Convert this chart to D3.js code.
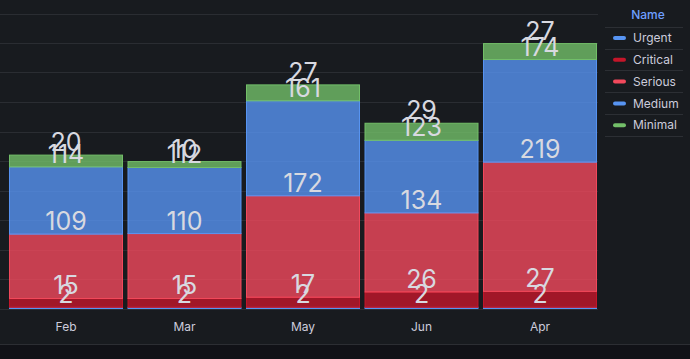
<!DOCTYPE html>
<html><head><meta charset="utf-8">
<script src="https://cdn.jsdelivr.net/npm/d3@7"></script>
<style>
html,body{margin:0;padding:0;background:#181b1f;}
svg{display:block;}
text{font-family:Inter,"Open Sans",sans-serif;}
</style></head>
<body>
<svg id="c" width="690" height="359"></svg>
<script>
const categories = ["Feb","Mar","May","Jun","Apr"];
const seriesNames = ["Urgent","Critical","Serious","Medium","Minimal"];
const seriesColors = ["#5794f2","#c4162a","#f2495c","#5794f2","#73bf69"];
const urgent   = [2, 2, 2, 2, 2];
const critical = [15, 15, 17, 26, 27];
const serious  = [109, 110, 172, 134, 219];
const medium   = [114, 112, 161, 123, 174];
const minimal  = [20, 10, 27, 29, 27];
const yTicks = [0,50,100,150,200,250,300,350,400,450,500];

const seriesValues = [urgent, critical, serious, medium, minimal];
const rows = categories.map((c,i)=>{
  const r = {cat:c};
  seriesNames.forEach((s,j)=> r[s]=seriesValues[j][i]);
  return r;
});
const stack = d3.stack().keys(seriesNames)(rows);

const svg = d3.select("#c");
const W = 690, H = 359;

// bottom panel
svg.append("rect").attr("x",0).attr("y",345).attr("width",W).attr("height",H-345).attr("fill","#111217");
svg.append("line").attr("x1",0).attr("x2",W).attr("y1",344.5).attr("y2",344.5).attr("stroke","#2c2e33");

const x = d3.scaleBand().domain(categories).range([6.5,599.5]).paddingInner(0.038).paddingOuter(0.021);
const y = d3.scaleLinear().domain([0,500]).range([308.5,13.5]);

// grid
svg.append("g").selectAll("line").data(yTicks).join("line")
  .attr("x1",0).attr("x2",598).attr("y1",d=>Math.round(y(d))+0.5).attr("y2",d=>Math.round(y(d))+0.5)
  .attr("stroke","#2a2d32").attr("stroke-width",1);

// bars
const g = svg.append("g");
stack.forEach((s,j)=>{
  g.append("g").selectAll("rect").data(s).join("rect")
    .attr("x",d=>x(d.data.cat)+0.5)
    .attr("y",d=>y(d[1]))
    .attr("width",x.bandwidth()-1)
    .attr("height",d=>Math.max(1, y(d[0])-y(d[1])))
    .attr("fill",seriesColors[j]).attr("fill-opacity",0.8)
    .attr("stroke",seriesColors[j]).attr("stroke-width",1);
});

// value labels
stack.forEach((s,j)=>{
  svg.append("g").selectAll("text").data(s).join("text")
    .attr("x",d=>x(d.data.cat)+x.bandwidth()/2)
    .attr("y",d=>y(d[1])-4)
    .attr("text-anchor","middle")
    .attr("font-size",25)
    .attr("fill","#d8d9e0")
    .text(d=>d[1]-d[0]);
});

// x axis labels
const xAxis = d3.axisBottom(x).tickSize(0).tickPadding(0);
const xa = svg.append("g").attr("transform","translate(0,322)").call(xAxis);
xa.select(".domain").remove();
xa.selectAll("text").attr("font-size",12).attr("fill","#ccccdc").attr("font-family","Inter,sans-serif").attr("dy","0.71em");

// legend
const lg = svg.append("g");
lg.append("text").attr("x",648).attr("y",19).attr("text-anchor","middle")
  .attr("font-size",12).attr("font-weight",500).attr("fill","#6e9fff").text("Name");
const sepY = [27,49,70,92,114,136];
lg.selectAll("line").data(sepY).join("line")
  .attr("x1",605).attr("x2",683).attr("y1",d=>d+0.5).attr("y2",d=>d+0.5)
  .attr("stroke","#2c2f34");
seriesNames.forEach((n,i)=>{
  const cy = 38 + i*21.8;
  lg.append("rect").attr("x",613).attr("y",cy-2).attr("width",13).attr("height",4).attr("rx",2)
    .attr("fill",seriesColors[i]);
  lg.append("text").attr("x",633).attr("y",cy).attr("dy","0.35em")
    .attr("font-size",12).attr("fill","#ccccdc").text(n);
});
</script>
</body></html>
